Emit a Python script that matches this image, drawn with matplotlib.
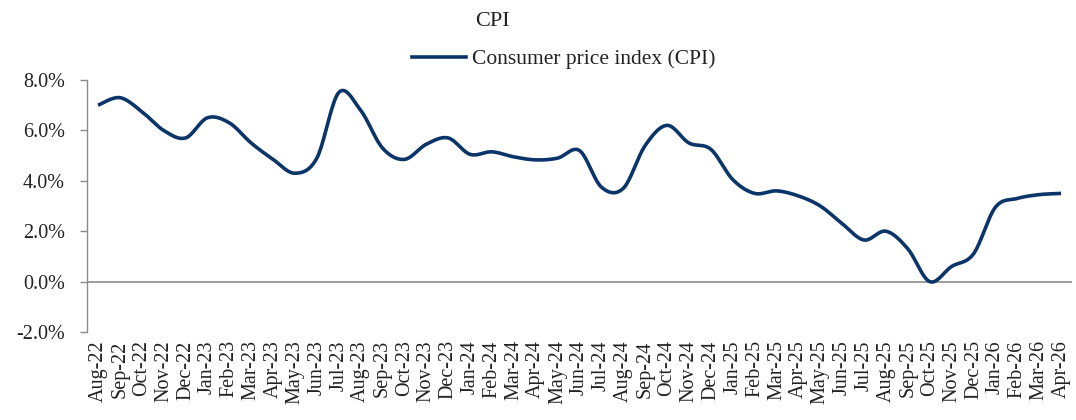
import matplotlib
matplotlib.use("Agg")
import matplotlib.pyplot as plt
import numpy as np
from matplotlib.lines import Line2D
from matplotlib.ticker import FuncFormatter

plt.rcParams['font.family'] = ['Liberation Serif', 'DejaVu Serif']

months = ["Aug-22", "Sep-22", "Oct-22", "Nov-22", "Dec-22",
          "Jan-23", "Feb-23", "Mar-23", "Apr-23", "May-23", "Jun-23", "Jul-23",
          "Aug-23", "Sep-23", "Oct-23", "Nov-23", "Dec-23",
          "Jan-24", "Feb-24", "Mar-24", "Apr-24", "May-24", "Jun-24", "Jul-24",
          "Aug-24", "Sep-24", "Oct-24", "Nov-24", "Dec-24",
          "Jan-25", "Feb-25", "Mar-25", "Apr-25", "May-25", "Jun-25", "Jul-25",
          "Aug-25", "Sep-25", "Oct-25", "Nov-25", "Dec-25",
          "Jan-26", "Feb-26", "Mar-26", "Apr-26"]
cpi = [7.0, 7.3, 6.75, 6.0, 5.7,
       6.5, 6.3, 5.5, 4.85, 4.3, 4.9, 7.5,
       6.8, 5.3, 4.85, 5.45, 5.7,
       5.05, 5.15, 4.95, 4.83, 4.9, 5.2, 3.75,
       3.7, 5.4, 6.2, 5.5, 5.25,
       4.05, 3.5, 3.6, 3.4, 3.0, 2.3, 1.65,
       2.0, 1.3, 0.0, 0.6, 1.1,
       2.95, 3.3, 3.45, 3.5]
series_label = "Consumer price index (CPI)"
title = "CPI"
yticks = [-2, 0, 2, 4, 6, 8]

color = "#0b3568"


def catmull_rom(x, y, n=20):
    x = np.asarray(x, float)
    y = np.asarray(y, float)
    px = np.concatenate([[x[0]], x, [x[-1]]])
    py = np.concatenate([[y[0]], y, [y[-1]]])
    xs, ys = [], []
    t = np.linspace(0, 1, n, endpoint=False)
    for i in range(1, len(px) - 2):
        p0x, p1x, p2x, p3x = px[i - 1], px[i], px[i + 1], px[i + 2]
        p0y, p1y, p2y, p3y = py[i - 1], py[i], py[i + 1], py[i + 2]
        c1x = p1x + (p2x - p0x) / 6
        c1y = p1y + (p2y - p0y) / 6
        c2x = p2x - (p3x - p1x) / 6
        c2y = p2y - (p3y - p1y) / 6
        bx = (1 - t) ** 3 * p1x + 3 * (1 - t) ** 2 * t * c1x + 3 * (1 - t) * t ** 2 * c2x + t ** 3 * p2x
        by = (1 - t) ** 3 * p1y + 3 * (1 - t) ** 2 * t * c1y + 3 * (1 - t) * t ** 2 * c2y + t ** 3 * p2y
        xs.append(bx)
        ys.append(by)
    xs.append([x[-1]])
    ys.append([y[-1]])
    return np.concatenate(xs), np.concatenate(ys)


fig = plt.figure(figsize=(10.76, 4.2), dpi=100)
ax = fig.add_axes([87 / 1076, 1 - 332 / 420, (1072 - 87) / 1076, (332 - 80) / 420])

xi = np.arange(len(months))
sx, sy = catmull_rom(xi, cpi)
ax.plot(sx, sy, color=color, lw=2.6, solid_capstyle='butt')

ax.set_xlim(-0.5, len(months) - 0.5)
ax.set_ylim(-2, 8)
ax.set_yticks(yticks)
ax.yaxis.set_major_formatter(FuncFormatter(lambda v, p: f"{v:.1f}%"))
ax.set_xticks(xi)
ax.set_xticklabels(months, rotation=90)

for s in ['top', 'right', 'bottom']:
    ax.spines[s].set_visible(False)
ax.spines['left'].set_color('#8c8c8c')
ax.spines['left'].set_linewidth(1.0)
ax.axhline(0, color='#8c8c8c', lw=1.2, zorder=1)

ax.tick_params(axis='y', length=5, width=1, color='#8c8c8c', pad=11, labelsize=14.5, labelcolor='#222222')
ax.tick_params(axis='x', length=0, pad=6, labelsize=14.5, labelcolor='#222222')

fig.text(492 / 1076, 1 - 21 / 420, title, ha='center', va='center', fontsize=16, color='#222222')

handle = Line2D([0], [0], color=color, lw=2.6)
fig.legend([handle], [series_label], loc='center', bbox_to_anchor=(564 / 1076, 1 - 59 / 420),
           frameon=False, fontsize=15.5, handlelength=2.5, handletextpad=0.3, labelcolor='#222222')

fig.savefig("out.png", dpi=100)
